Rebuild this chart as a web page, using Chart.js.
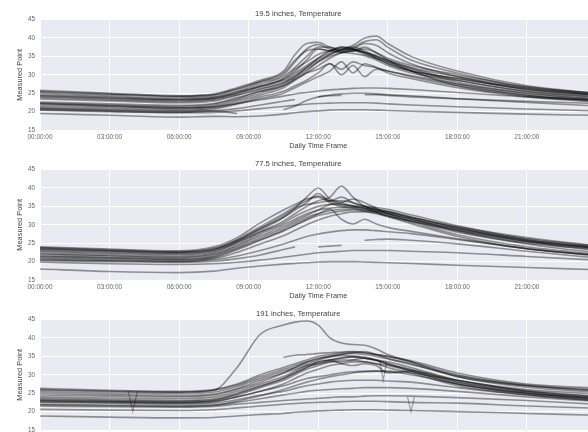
<!DOCTYPE html>
<html>
<head>
<meta charset="utf-8">
<script src="https://cdn.jsdelivr.net/npm/chart.js@4.4.0/dist/chart.umd.min.js"></script>
<style>
  html, body { margin: 0; padding: 0; width: 588px; height: 432px; overflow: hidden; background: #fff; }
  canvas { position: absolute; left: 0; }
</style>
</head>
<body>
<canvas id="panel1" width="600" height="150" style="top:0px"></canvas>
<canvas id="panel2" width="600" height="150" style="top:150px"></canvas>
<canvas id="panel3" width="600" height="150" style="top:300px"></canvas>
<script>
// hour of day for every reading
const hours = [0, 3, 6, 7.5, 8.5, 9.5, 10.5, 11, 11.5, 12, 12.5, 13, 13.5, 14, 14.5, 15, 16, 18, 21, 24];
const yTicks = [15, 20, 25, 30, 35, 40, 45];

// 19.5 inches
const p1_1  = [25.8,25.0,24.3,24.8,26.5,28.5,31.0,35.5,38.5,38.8,37.5,37.0,36.8,36.2,35.2,34.0,32.0,29.5,26.5,25.0];
const p1_2  = [25.3,24.6,24.0,24.4,26.0,28.0,30.0,33.5,37.0,38.2,37.0,36.5,37.0,36.0,34.5,33.0,31.0,29.0,26.0,24.5];
const p1_3  = [24.9,24.2,23.6,24.0,25.5,27.5,29.5,32.0,35.0,37.5,37.5,36.2,35.8,35.2,34.0,32.5,30.5,28.5,25.5,24.0];
const p1_4  = [24.5,23.9,23.3,23.8,25.3,27.0,29.0,31.5,33.5,35.5,36.5,37.0,38.0,40.0,40.5,38.5,35.0,31.0,27.0,25.0];
const p1_5  = [24.1,23.5,23.0,23.5,25.0,26.8,28.5,30.5,32.5,34.5,36.0,36.8,37.5,39.0,39.5,37.5,34.0,30.5,26.5,24.5];
const p1_6  = [23.8,23.2,22.7,23.2,24.6,26.3,28.0,30.0,32.0,34.0,35.5,36.5,37.0,38.5,38.0,36.0,33.0,29.5,26.0,24.2];
const p1_7  = [25.5,24.8,24.2,24.6,26.2,28.2,30.5,34.0,36.5,37.0,36.5,37.5,37.0,36.0,34.5,33.0,31.0,29.0,26.2,24.6];
const p1_8  = [22.3,21.8,21.4,22.0,23.5,25.5,27.5,29.5,32.0,34.5,36.5,37.5,37.0,35.5,34.5,33.5,31.5,28.0,25.0,23.3];
const p1_9  = [22.0,21.5,21.1,21.6,23.2,25.0,27.0,29.0,31.0,33.5,35.5,36.8,37.5,36.5,35.0,33.5,31.0,27.5,24.5,23.0];
const p1_10 = [21.6,21.2,20.8,21.3,22.8,24.5,26.5,28.5,30.5,32.5,34.5,36.0,36.5,37.0,36.0,34.0,31.0,27.0,24.2,22.8];
const p1_11 = [21.2,20.8,20.5,21.0,22.3,24.0,25.5,27.0,28.5,30.5,33.0,30.0,32.5,29.5,31.5,31.0,29.5,27.0,24.5,23.0];
const p1_12 = [20.9,20.5,20.2,20.7,22.0,23.5,25.0,26.5,28.0,29.5,31.0,33.5,30.5,33.0,32.0,30.5,29.0,26.5,24.0,22.6];
const p1_13 = [22.2,21.6,21.0,21.3,22.2,23.2,24.2,24.8,25.2,25.6,25.9,26.1,26.3,26.4,26.4,26.3,26.0,25.2,24.0,23.2];
const p1_14 = [20.8,20.3,20.0,20.2,20.8,21.8,22.8,23.3,null,24.0,24.3,24.4,null,24.6,24.6,24.4,24.0,23.5,22.8,22.2];
const p1_15 = [20.4,20.0,19.7,19.8,20.2,20.8,21.4,21.7,22.0,22.2,22.3,22.4,22.4,22.4,22.3,22.1,21.8,21.3,20.7,20.2];
const p1_16 = [19.5,19.0,18.5,18.7,18.6,18.8,19.3,19.7,20.0,20.2,20.4,20.5,20.5,20.5,20.4,20.3,20.1,19.8,19.3,19.0];
const p1_17 = [20.5,20.1,19.8,20.2,19.5,null,20.5,21.5,23.0,24.0,24.5,24.8,25.0,25.0,24.8,24.6,24.3,23.5,22.5,21.5];
const p1_18 = [23.4,22.9,22.4,22.9,24.4,26.0,27.8,29.5,31.5,33.5,35.0,36.0,36.5,36.0,35.0,33.8,31.8,28.5,25.5,23.8];
const p1_19 = [24.3,23.7,23.2,23.6,25.0,26.8,28.8,31.0,34.0,37.0,36.5,36.0,36.5,37.5,36.0,34.5,32.5,30.0,26.8,24.8];
const p1_20 = [22.6,22.1,21.7,22.2,23.8,25.5,27.0,28.8,30.5,31.5,33.0,31.5,33.5,32.5,32.0,31.0,29.8,27.5,25.0,23.5];

// 77.5 inches
const p2_1  = [24.0,23.4,22.9,24.0,26.5,30.5,34.0,35.5,37.0,37.5,36.0,35.0,34.5,34.0,33.5,33.0,31.5,29.0,25.8,24.0];
const p2_2  = [23.8,23.2,22.7,23.6,26.0,29.5,33.0,35.0,36.5,37.8,36.5,35.5,35.0,34.5,33.5,32.5,31.0,28.5,25.5,23.8];
const p2_3  = [23.4,22.9,22.4,23.2,25.5,28.5,32.0,34.5,37.5,40.0,37.0,36.0,35.0,34.5,33.5,32.5,31.0,28.5,25.3,23.6];
const p2_4  = [22.9,22.4,22.0,22.8,25.0,28.0,31.0,33.0,35.0,36.5,37.5,40.5,37.5,35.0,34.0,33.0,31.0,28.0,25.0,23.3];
const p2_5  = [23.6,23.0,22.6,23.4,25.8,29.0,32.0,34.0,36.0,38.5,36.5,37.5,36.0,35.0,34.0,33.5,32.0,29.5,26.5,24.3];
const p2_6  = [22.2,21.7,21.3,22.2,24.5,27.5,30.0,31.5,33.0,34.0,34.5,34.8,34.8,34.5,34.2,33.7,32.2,29.2,25.5,23.0];
const p2_7  = [21.6,21.1,20.8,21.6,23.8,26.5,29.0,30.5,32.0,33.0,33.8,34.2,34.3,34.0,33.7,33.2,31.7,28.3,24.8,22.4];
const p2_8  = [21.1,20.7,20.4,21.1,23.2,25.8,28.3,29.8,31.3,32.5,33.2,33.7,34.0,33.7,33.2,32.3,30.7,27.3,24.0,22.0];
const p2_9  = [20.8,20.4,20.1,20.8,22.5,24.8,27.0,28.5,30.0,31.3,32.3,33.0,33.5,33.5,33.0,32.2,30.3,26.8,23.5,21.8];
const p2_10 = [22.6,22.1,21.7,22.5,25.2,28.0,30.5,32.3,33.8,35.0,35.5,35.5,35.2,35.0,34.7,34.2,32.7,29.7,26.0,23.8];
const p2_11 = [21.4,21.0,20.6,21.3,23.5,26.0,28.5,30.0,31.5,33.0,34.2,31.5,30.2,31.5,30.2,29.3,28.2,26.2,23.5,21.6];
const p2_12 = [20.5,20.2,20.0,20.5,21.5,23.0,24.8,25.8,26.8,27.5,28.0,28.4,28.6,28.6,28.4,28.1,27.6,26.0,23.5,21.6];
const p2_13 = [20.3,20.0,19.8,20.1,20.8,21.8,23.3,24.0,null,24.0,24.2,24.4,null,25.8,26.0,26.1,25.8,24.8,22.8,21.0];
const p2_14 = [19.9,19.4,19.2,19.4,19.8,20.4,21.2,21.6,22.0,22.4,22.6,22.8,23.0,23.0,23.0,23.0,22.8,22.4,21.4,20.4];
const p2_15 = [18.0,17.3,17.0,17.4,18.2,18.8,19.3,19.5,19.7,19.9,20.0,20.0,20.0,19.9,19.8,19.7,19.5,19.0,18.4,17.8];
const p2_16 = [23.2,22.7,22.3,23.1,25.5,29.0,32.5,34.5,35.5,36.0,36.5,36.5,36.0,35.0,34.3,33.5,32.0,29.2,26.2,24.2];
const p2_17 = [22.0,21.5,21.1,21.9,24.2,27.0,29.5,31.0,32.5,34.0,35.5,36.0,37.0,36.0,34.5,33.0,31.5,28.8,25.8,23.5];

// 191 inches
const p3_1  = [25.8,25.4,25.2,25.8,32.0,41.0,43.5,44.3,44.6,43.5,40.0,38.6,38.2,38.0,37.0,35.5,33.5,29.5,27.0,25.8];
const p3_2  = [26.3,25.8,25.5,26.0,27.5,30.0,32.0,33.0,34.0,35.0,35.5,36.0,36.2,36.0,35.5,35.0,33.5,30.0,27.2,26.0];
const p3_3  = [25.4,25.0,24.8,25.3,26.8,29.0,31.0,32.0,33.0,34.0,34.8,35.5,36.0,36.3,35.5,34.5,33.0,29.5,26.6,25.3];
const p3_4  = [24.5,24.2,24.0,24.5,26.0,28.0,30.5,32.0,33.5,34.5,35.0,35.2,35.0,34.5,34.0,33.5,32.0,28.5,25.7,24.2];
const p3_5  = [23.6,23.3,23.0,23.5,25.0,27.0,29.0,30.5,32.0,33.5,34.0,34.5,35.0,34.8,34.0,33.0,31.0,27.5,25.0,23.5];
const p3_6  = [23.0,22.7,22.5,23.0,24.5,26.5,28.5,30.0,31.5,32.5,33.5,34.0,34.0,33.5,33.0,32.0,30.5,27.0,24.5,23.0];
const p3_7  = [22.7,22.5,22.3,22.7,24.0,25.5,27.5,29.0,30.5,31.5,32.5,33.0,33.5,33.5,33.0,32.5,31.0,27.5,24.8,23.3];
const p3_8  = [null,null,null,null,null,null,34.8,35.3,35.5,35.8,36.0,36.2,36.3,36.0,35.5,35.0,33.8,30.5,27.5,26.4];
const p3_9  = [25.0,24.6,24.3,24.8,26.3,28.5,30.5,31.5,32.5,33.0,33.5,33.5,34.0,34.5,34.0,33.0,31.5,28.5,26.0,24.8];
const p3_10 = [24.0,23.7,23.5,24.0,25.5,27.5,29.5,31.0,32.5,33.5,34.0,33.0,32.5,33.0,32.5,30.5,31.0,28.0,25.5,24.0];
const p3_11 = [23.0,22.8,22.5,22.8,24.0,25.5,27.0,28.0,29.0,29.5,30.0,30.5,30.8,31.0,31.0,30.8,30.0,27.5,25.0,23.5];
const p3_12 = [22.5,22.3,22.0,22.3,23.2,24.5,25.5,26.3,27.0,27.5,28.0,28.3,28.5,28.5,28.5,28.3,28.0,26.5,24.5,23.0];
const p3_13 = [22.0,21.8,21.6,21.8,22.5,23.5,24.5,25.0,25.5,25.8,26.0,26.2,26.3,26.5,26.5,26.5,26.3,25.5,24.0,22.8];
const p3_14 = [21.5,21.3,21.2,21.4,22.0,22.5,23.0,23.2,23.4,23.6,23.8,24.0,24.0,24.2,24.3,24.3,24.2,23.8,23.0,22.0];
const p3_15 = [20.6,20.4,20.3,20.5,21.0,21.5,22.0,22.2,22.4,22.5,22.6,22.7,22.8,22.8,22.8,22.7,22.5,22.3,21.5,20.9];
const p3_16 = [18.8,18.5,18.3,18.4,18.8,19.2,19.5,19.8,20.0,20.2,20.3,20.4,20.5,20.5,20.5,20.4,20.3,20.0,19.5,19.0];
const p3_17 = [26.0,25.6,25.3,25.8,27.2,29.5,31.5,32.5,33.5,34.3,35.0,35.6,35.8,35.5,35.0,34.3,32.8,29.8,27.0,25.6];
const p3_18 = [23.3,23.0,22.8,23.2,24.8,26.8,29.0,30.5,32.0,33.0,34.0,34.6,34.8,34.5,33.8,32.8,31.3,28.0,25.2,23.6];
const p3_19 = [21.8,21.6,21.4,21.7,22.8,24.3,26.0,27.0,28.0,28.8,29.5,30.0,30.5,30.8,31.0,31.0,30.5,28.5,25.5,23.8];

// short sensor drop-outs in the 191 inch panel
const dropA_hours = [3.8, 4.0, 4.2];
const dropA_temps = [25.6, 20.0, 25.5];
const dropB_hours = [14.65, 14.8, 14.95];
const dropB_temps = [33.8, 28.5, 33.5];
const dropC_hours = [15.85, 16.0, 16.15];
const dropC_temps = [24.0, 20.0, 24.0];

const panels = [
  { id: 'panel1', title: '19.5 inches, Temperature',
    lines: [p1_1, p1_2, p1_3, p1_4, p1_5, p1_6, p1_7, p1_8, p1_9, p1_10, p1_11, p1_12, p1_13, p1_14, p1_15, p1_16, p1_17, p1_18, p1_19, p1_20],
    drops: [] },
  { id: 'panel2', title: '77.5 inches, Temperature',
    lines: [p2_1, p2_2, p2_3, p2_4, p2_5, p2_6, p2_7, p2_8, p2_9, p2_10, p2_11, p2_12, p2_13, p2_14, p2_15, p2_16, p2_17],
    drops: [] },
  { id: 'panel3', title: '191 inches, Temperature',
    lines: [p3_1, p3_2, p3_3, p3_4, p3_5, p3_6, p3_7, p3_8, p3_9, p3_10, p3_11, p3_12, p3_13, p3_14, p3_15, p3_16, p3_17, p3_18, p3_19],
    drops: [[dropA_hours, dropA_temps], [dropB_hours, dropB_temps], [dropC_hours, dropC_temps]] },
];

const lineColor = 'rgba(0, 0, 0, 0.4)';
const font = 'Liberation Sans, Arial, sans-serif';

const plotBackground = {
  id: 'plotBackground',
  beforeDraw(chart) {
    const { ctx, chartArea } = chart;
    ctx.save();
    ctx.fillStyle = '#eaeaf2';
    ctx.fillRect(chartArea.left, chartArea.top, chartArea.width, chartArea.height);
    ctx.restore();
  }
};

function clock(h) {
  return String(h).padStart(2, '0') + ':00:00';
}

function makePanel(panel) {
  const datasets = panel.lines.map(temps => ({
    data: temps.map((t, i) => ({ x: hours[i], y: t })),
    borderColor: lineColor,
    borderWidth: 1.6,
    pointRadius: 0,
    cubicInterpolationMode: 'monotone',
  }));
  panel.drops.forEach(([hs, ts]) => {
    datasets.push({
      data: ts.map((t, i) => ({ x: hs[i], y: t })),
      borderColor: 'rgba(0, 0, 0, 0.3)',
      borderWidth: 1.3,
      pointRadius: 0,
      tension: 0,
    });
  });

  new Chart(document.getElementById(panel.id), {
    type: 'line',
    data: { datasets: datasets },
    plugins: [plotBackground],
    options: {
      responsive: false,
      animation: false,
      events: [],
      layout: { padding: { left: 0, right: 3.5, top: 0, bottom: 0 } },
      plugins: {
        legend: { display: false },
        tooltip: { enabled: false },
        title: {
          display: true,
          text: panel.title,
          color: '#444',
          font: { family: font, size: 7.7, weight: 'normal' },
          padding: { top: 9, bottom: 1.3 },
        },
      },
      scales: {
        x: {
          type: 'linear',
          min: 0,
          max: 24,
          afterBuildTicks: scale => { scale.ticks = [0, 3, 6, 9, 12, 15, 18, 21, 24].map(v => ({ value: v })); },
          ticks: {
            autoSkip: false,
            maxRotation: 0,
            padding: 3,
            color: '#666',
            font: { family: font, size: 6.4 },
            callback: v => (v >= 24 ? '' : clock(v)),
          },
          grid: { color: '#ffffff', lineWidth: 1, drawTicks: false },
          border: { display: false },
          title: {
            display: true,
            text: 'Daily Time Frame',
            color: '#444',
            font: { family: font, size: 7.4, lineHeight: 1 },
            padding: 0,
          },
          afterFit: scale => { scale.height = 20; },
        },
        y: {
          min: 15,
          max: 45,
          afterBuildTicks: scale => { scale.ticks = yTicks.map(v => ({ value: v })); },
          ticks: {
            padding: 5,
            color: '#666',
            font: { family: font, size: 6.4 },
          },
          grid: { color: '#ffffff', lineWidth: 1, drawTicks: false },
          border: { display: false },
          title: {
            display: true,
            text: 'Measured Point',
            color: '#444',
            font: { family: font, size: 7.4 },
            padding: { top: 16, bottom: 0 },
          },
          afterFit: scale => { scale.width = 40; },
        },
      },
    },
  });
}

panels.forEach(makePanel);
</script>
</body>
</html>
